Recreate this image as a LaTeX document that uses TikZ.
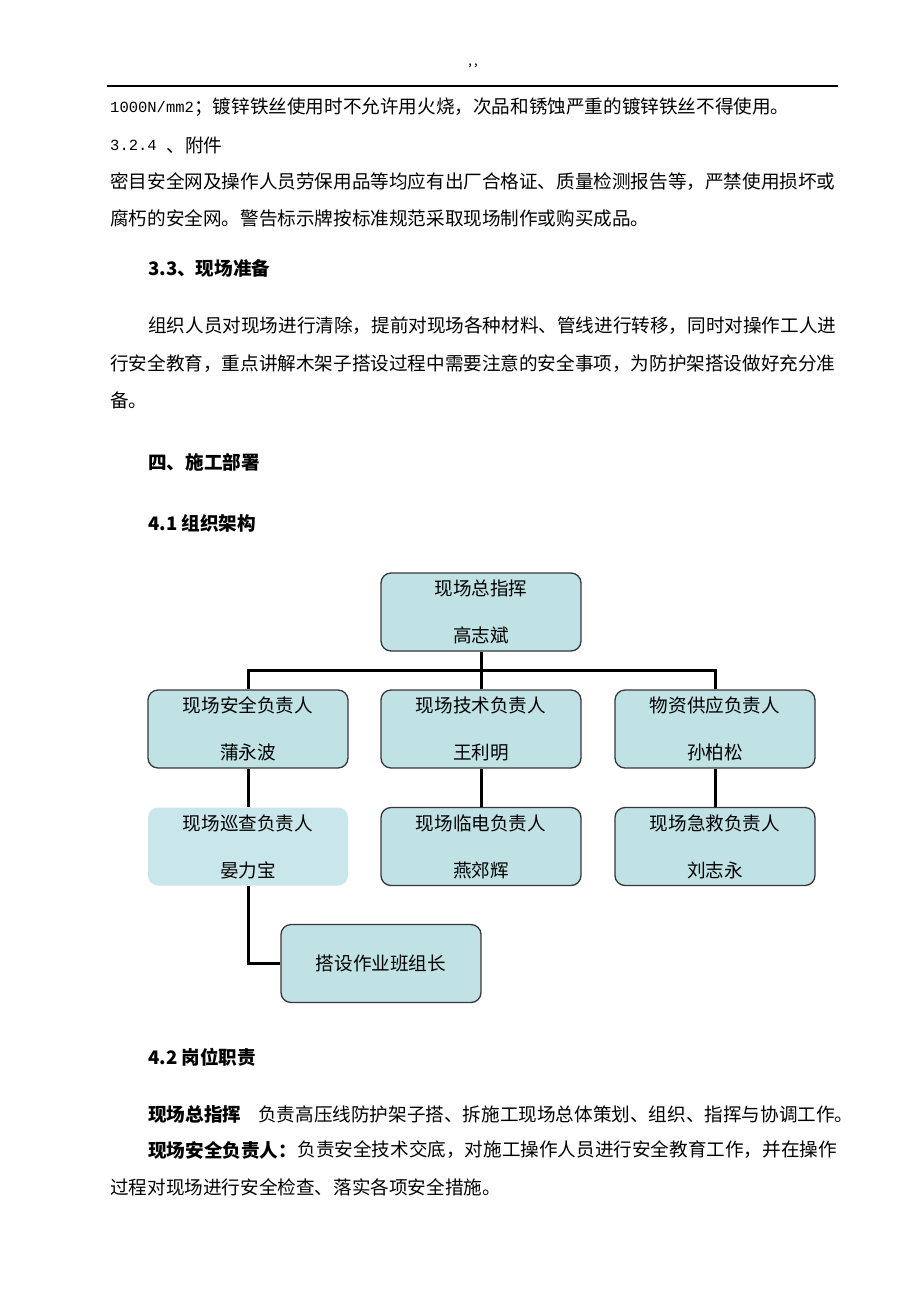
\documentclass[tikz,border=0pt]{standalone}
\usepackage{fontspec}
\setmainfont{Noto Sans CJK SC}
\setmonofont{Liberation Mono}
\usetikzlibrary{positioning,calc}
\definecolor{boxfill}{RGB}{192,226,229}
\definecolor{boxfilllight}{RGB}{201,231,234}
\definecolor{boxline}{RGB}{55,55,55}

\begin{document}
\begin{tikzpicture}[x=1pt,y=-1pt,
            org box/.style={draw=boxline, line width=1.3pt, fill=boxfill, rounded corners=10pt,
                minimum width=200pt, minimum height=78pt, inner sep=0pt, align=center,
                font=\fontsize{18.6}{47}\selectfont},
            plain box/.style={org box, draw=none, fill=boxfilllight},
            link/.style={line width=3pt},
            body/.style={anchor=west, inner sep=0pt, font=\fontsize{18.6}{18.6}\selectfont},
            head/.style={body, font=\fontsize{18.6}{18.6}\selectfont\bfseries},
            latin/.style={body, font=\fontsize{15.5}{15.5}\selectfont\ttfamily}]

            \useasboundingbox[fill=white] (0,0) rectangle (920,1302);

            % page header
            \node[inner sep=0pt, font=\fontsize{13}{13}\selectfont] (marks) at (473,66) {,\,,};
            \draw[line width=1.5pt] (107,86) -- (838,86);

            % text above the chart
            \node[latin] (l1a) at (110,107) {1000N/mm2};
            \node[body, right=0pt of l1a] (l1b) {；镀锌铁丝使用时不允许用火烧，次品和锈蚀严重的镀锌铁丝不得使用。};
            \node[latin] (l2a) at (110,145) {3.2.4\hspace*{9.3pt}};
            \node[body, right=0pt of l2a] (l2b) {、附件};
            \node[body] (l3) at (110,182) {密目安全网及操作人员劳保用品等均应有出厂合格证、质量检测报告等，严禁使用损坏或};
            \node[body] (l4) at (110,218) {腐朽的安全网。警告标示牌按标准规范采取现场制作或购买成品。};
            \node[head] (h33) at (148,268) {3.3、现场准备};
            \node[body] (l5) at (148,326) {组织人员对现场进行清除，提前对现场各种材料、管线进行转移，同时对操作工人进};
            \node[body] (l6) at (110,364) {行安全教育，重点讲解木架子搭设过程中需要注意的安全事项，为防护架搭设做好充分准};
            \node[body] (l7) at (110,400) {备。};
            \node[head] (h4) at (148,462) {四、施工部署};
            \node[head] (h41) at (148,523) {4.1 组织架构};

            % chart
            \node[org box] (chief) at (481,612) {现场总指挥\\高志斌};
            \node[org box] (safe) at (248,729) {现场安全负责人\\蒲永波};
            \node[org box] (tech) at (481,729) {现场技术负责人\\王利明};
            \node[org box] (supply) at (715,729) {物资供应负责人\\孙柏松};
            \node[plain box] (patrol) at (248,846.5) {现场巡查负责人\\晏力宝};
            \node[org box] (power) at (481,846.5) {现场临电负责人\\燕郊辉};
            \node[org box] (aid) at (715,846.5) {现场急救负责人\\刘志永};
            \node[org box] (crew) at (381,963.5) {搭设作业班组长};

            \coordinate (bus) at ($(chief.south)!0.5!(tech.north)$);
            \draw[link] (chief) -- (tech);
            \draw[link] (safe.north) |- (bus) -| (supply.north);
            \draw[link] (safe) -- (patrol);
            \draw[link] (tech) -- (power);
            \draw[link] (supply) -- (aid);
            \draw[link] (patrol.south) |- (crew.west);

            % text below the chart
            \node[head] (h42) at (148,1057) {4.2 岗位职责};
            \node[head] (d1a) at (148,1114) {现场总指挥};
            \node[body] (d1b) at (258,1114) {负责高压线防护架子搭、拆施工现场总体策划、组织、指挥与协调工作。};
            \node[head] (d2a) at (148,1150) {现场安全负责人：};
            \node[body, right=0pt of d2a] (d2b) {负责安全技术交底，对施工操作人员进行安全教育工作，并在操作};
            \node[body] (d3) at (110,1187) {过程对现场进行安全检查、落实各项安全措施。};

\end{tikzpicture}
\end{document}
